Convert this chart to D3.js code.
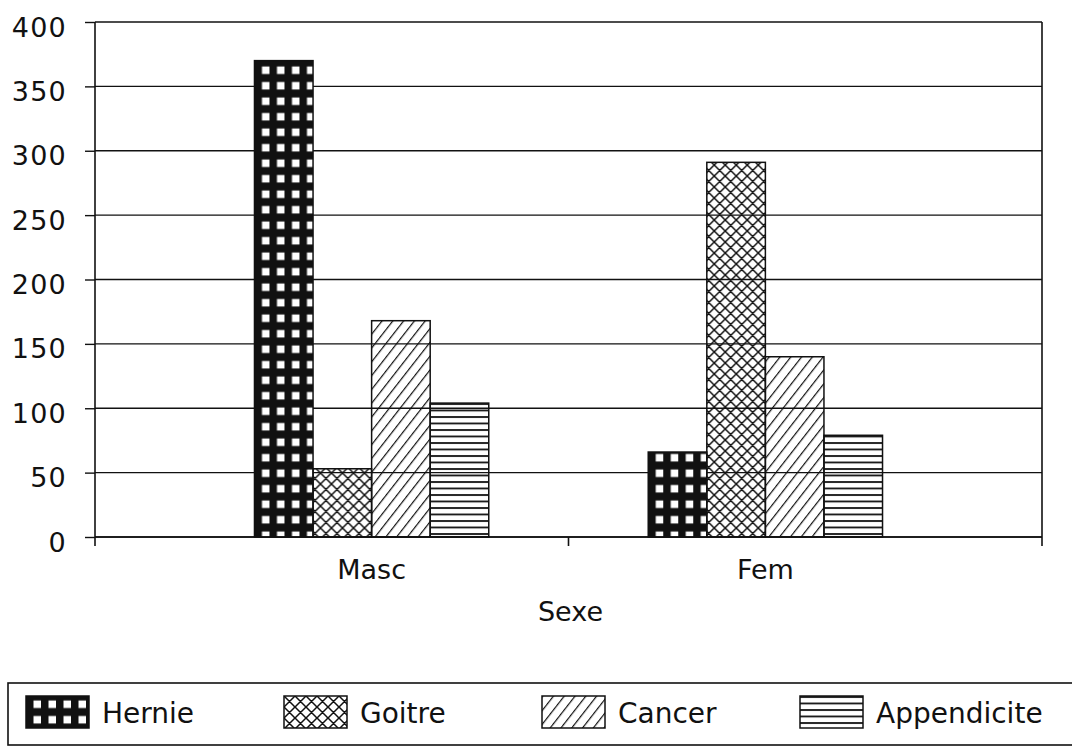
<!DOCTYPE html>
<html>
<head>
<meta charset="utf-8">
<script src="https://cdn.jsdelivr.net/npm/d3@7/dist/d3.min.js"></script>
<style>
  html, body { margin: 0; padding: 0; background: #fff; }
  svg { display: block; font-family: "DejaVu Sans", sans-serif; }
</style>
</head>
<body>
<svg id="chart" width="1072" height="746"></svg>
<script>
const CATEGORIES = ["Masc", "Fem"];
const SERIES = ["Hernie", "Goitre", "Cancer", "Appendicite"];
const HERNIE = [370, 66];
const GOITRE = [53, 291];
const CANCER = [168, 140];
const APPENDICITE = [104, 79];
const Y_TICKS = [0, 50, 100, 150, 200, 250, 300, 350, 400];
const X_TITLE = "Sexe";

const VALUES = {
  Hernie: HERNIE,
  Goitre: GOITRE,
  Cancer: CANCER,
  Appendicite: APPENDICITE,
};

const PLOT = { left: 95, right: 1042, top: 22, bottom: 537 };
const INK = "#111";

function buildPatterns(defs) {
  // black with white square holes
  const hernie = defs.append("pattern")
    .attr("id", "pat-Hernie")
    .attr("patternUnits", "userSpaceOnUse")
    .attr("x", 2)
    .attr("width", 15)
    .attr("height", 15.5);
  hernie.append("rect").attr("width", 15).attr("height", 15.5).attr("fill", INK);
  hernie.append("rect").attr("x", 5.5).attr("y", 4.5).attr("width", 7.5).attr("height", 7.5).attr("fill", "#fff");

  // diagonal crosshatch
  const goitre = defs.append("pattern")
    .attr("id", "pat-Goitre")
    .attr("patternUnits", "userSpaceOnUse")
    .attr("width", 11)
    .attr("height", 11);
  goitre.append("path")
    .attr("d", "M-1,-1 L12,12 M-1,10 L1,12 M10,-1 L12,1 M12,-1 L-1,12 M-1,1 L1,-1 M10,12 L12,10")
    .attr("stroke", INK)
    .attr("stroke-width", 1.5)
    .attr("fill", "none");

  // single forward hatch
  const cancer = defs.append("pattern")
    .attr("id", "pat-Cancer")
    .attr("patternUnits", "userSpaceOnUse")
    .attr("width", 8.5)
    .attr("height", 8.5)
    .attr("patternTransform", "rotate(38)");
  cancer.append("line")
    .attr("x1", 0).attr("y1", 0).attr("x2", 0).attr("y2", 8.5)
    .attr("stroke", INK)
    .attr("stroke-width", 2.4);

  // horizontal lines
  const app = defs.append("pattern")
    .attr("id", "pat-Appendicite")
    .attr("patternUnits", "userSpaceOnUse")
    .attr("width", 10)
    .attr("height", 6.5);
  app.append("line")
    .attr("x1", 0).attr("y1", 1).attr("x2", 10).attr("y2", 1)
    .attr("stroke", INK)
    .attr("stroke-width", 1.8);
}

function drawChart() {
  const svg = d3.select("#chart");
  svg.append("rect").attr("width", 1072).attr("height", 746).attr("fill", "#fff");

  buildPatterns(svg.append("defs"));

  const y = d3.scaleLinear().domain([0, 400]).range([PLOT.bottom, PLOT.top]);
  const x0 = d3.scaleBand().domain(CATEGORIES).range([PLOT.left, PLOT.right]).padding(0.405);
  const x1 = d3.scaleBand().domain(SERIES).range([0, x0.bandwidth()]);

  // gridlines
  svg.append("g")
    .selectAll("line")
    .data(Y_TICKS)
    .join("line")
    .attr("x1", PLOT.left)
    .attr("x2", PLOT.right)
    .attr("y1", (d) => y(d))
    .attr("y2", (d) => y(d))
    .attr("stroke", INK)
    .attr("stroke-width", 1.4);

  // y axis ticks + labels
  const yAxis = svg.append("g")
    .attr("transform", `translate(${PLOT.left},0)`)
    .call(d3.axisLeft(y).tickValues(Y_TICKS).tickSizeInner(10).tickSizeOuter(0).tickPadding(18));
  yAxis.select(".domain").remove();
  yAxis.selectAll(".tick line").attr("stroke", INK).attr("stroke-width", 1.4);
  yAxis.selectAll(".tick text")
    .attr("font-family", "DejaVu Sans, sans-serif")
    .attr("font-size", 27)
    .attr("letter-spacing", 1.2)
    .attr("fill", INK)
    .attr("dy", "0.52em");

  // bars
  const groups = svg.append("g")
    .selectAll("g")
    .data(CATEGORIES)
    .join("g")
    .attr("transform", (c) => `translate(${x0(c)},0)`);

  groups.selectAll("rect")
    .data((c, i) => SERIES.map((s) => ({ series: s, value: VALUES[s][i] })))
    .join("rect")
    .attr("x", (d) => x1(d.series))
    .attr("y", (d) => y(d.value))
    .attr("width", x1.bandwidth())
    .attr("height", (d) => y(0) - y(d.value))
    .attr("fill", (d) => `url(#pat-${d.series})`)
    .attr("stroke", INK)
    .attr("stroke-width", 1.5);

  // frame: left axis, right border, baseline
  const frame = svg.append("g").attr("stroke", INK).attr("stroke-width", 1.6);
  frame.append("line").attr("x1", PLOT.left).attr("x2", PLOT.left).attr("y1", PLOT.top).attr("y2", PLOT.bottom);
  frame.append("line").attr("x1", PLOT.right).attr("x2", PLOT.right).attr("y1", PLOT.top).attr("y2", PLOT.bottom);
  frame.append("line").attr("x1", PLOT.left).attr("x2", PLOT.right).attr("y1", PLOT.bottom).attr("y2", PLOT.bottom);

  const mid = (x0(CATEGORIES[0]) + x0.bandwidth() + x0(CATEGORIES[1])) / 2;
  frame.selectAll(".xtick")
    .data([PLOT.left, mid, PLOT.right])
    .join("line")
    .attr("class", "xtick")
    .attr("x1", (d) => d)
    .attr("x2", (d) => d)
    .attr("y1", PLOT.bottom)
    .attr("y2", PLOT.bottom + 9);

  svg.append("g")
    .selectAll("text")
    .data(CATEGORIES)
    .join("text")
    .attr("x", (c) => x0(c) + x0.bandwidth() / 2)
    .attr("y", 579)
    .attr("text-anchor", "middle")
    .attr("font-size", 27)
    .attr("fill", INK)
    .text((c) => c);

  svg.append("text")
    .attr("x", mid + 2)
    .attr("y", 621)
    .attr("text-anchor", "middle")
    .attr("font-size", 27)
    .attr("fill", INK)
    .text(X_TITLE);

  // legend
  svg.append("rect")
    .attr("x", 8)
    .attr("y", 683)
    .attr("width", 1080)
    .attr("height", 62)
    .attr("fill", "none")
    .attr("stroke", INK)
    .attr("stroke-width", 1.6);

  const legendX = d3.scalePoint().domain(SERIES).range([26, 800]);
  const items = svg.append("g")
    .selectAll("g")
    .data(SERIES)
    .join("g")
    .attr("transform", (s) => `translate(${legendX(s)},696)`);

  items.append("rect")
    .attr("width", 63)
    .attr("height", 32)
    .attr("fill", (s) => `url(#pat-${s})`)
    .attr("stroke", INK)
    .attr("stroke-width", 1.5);

  items.append("text")
    .attr("x", 76)
    .attr("y", 27)
    .attr("font-size", 28)
    .attr("fill", INK)
    .text((s) => s);
}

drawChart();
</script>
</body>
</html>
